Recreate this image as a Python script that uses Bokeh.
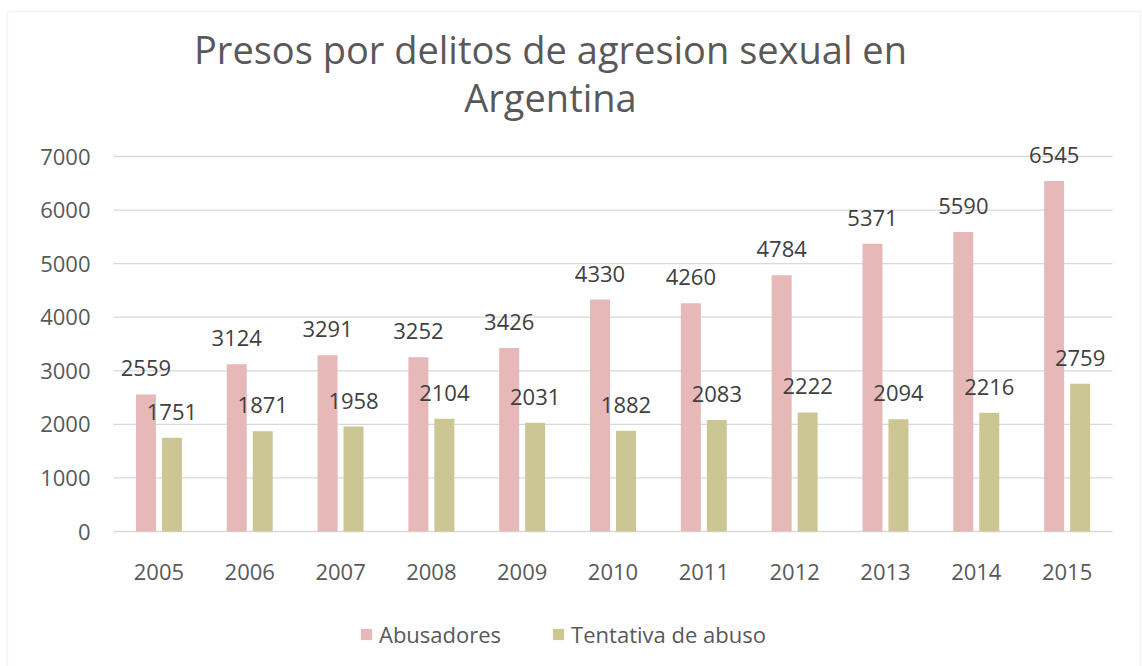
from bokeh.plotting import figure
from bokeh.models import (ColumnDataSource, Range1d, Legend, LegendItem, Label,
                          BoxAnnotation, FixedTicker, LinearAxis)
from bokeh.transform import dodge
from bokeh.core.properties import value
from bokeh.embed import file_html
from bokeh.resources import INLINE

years = ["2005", "2006", "2007", "2008", "2009", "2010", "2011", "2012", "2013", "2014", "2015"]
abusadores = [2559, 3124, 3291, 3252, 3426, 4330, 4260, 4784, 5371, 5590, 6545]
tentativa = [1751, 1871, 1958, 2104, 2031, 1882, 2083, 2222, 2094, 2216, 2759]
y_ticks = [0, 1000, 2000, 3000, 4000, 5000, 6000, 7000]
title_lines = ["Presos por delitos de agresion sexual en", "Argentina"]
series_names = ["Abusadores", "Tentativa de abuso"]

PINK = "#E6B8B7"
KHAKI = "#CCC594"
GRID = "#D9D9D9"
FONT = "Open Sans"
W, H = 1142, 666

idx = list(range(len(years)))
src = ColumnDataSource(dict(
    idx=idx, abus=abusadores, tent=tentativa,
    abus_lbl=[str(v) for v in abusadores], tent_lbl=[str(v) for v in tentativa],
))
grid_src = ColumnDataSource(dict(
    y=y_ticks, x0=[-0.5] * len(y_ticks), x1=[len(years) - 0.5] * len(y_ticks)))

p = figure(x_range=Range1d(-1.7442, 10.830), y_range=Range1d(-2520, 9912),
           width=W, height=H, output_backend="svg", toolbar_location=None,
           x_axis_type=None, y_axis_type=None, min_border=0)
p.outline_line_color = None
p.background_fill_color = "white"
p.border_fill_color = "white"
p.grid.visible = False

# horizontal gridlines
p.segment(x0="x0", x1="x1", y0="y", y1="y", source=grid_src,
          line_color=GRID, line_width=1.3)

yaxis = LinearAxis(fixed_location=-0.5, ticker=FixedTicker(ticks=y_ticks))
xaxis = LinearAxis(fixed_location=0, ticker=FixedTicker(ticks=idx),
                   major_label_overrides={i: y for i, y in zip(idx, years)})
for ax in (xaxis, yaxis):
    ax.axis_line_color = None
    ax.major_tick_line_color = None
    ax.minor_tick_line_color = None
    ax.major_label_text_font = FONT
    ax.major_label_text_font_size = "22px"
    ax.major_label_text_color = "#595959"
yaxis.major_label_standoff = 17
xaxis.major_label_standoff = 26
p.add_layout(yaxis, "left")
p.add_layout(xaxis, "below")

r1 = p.vbar(x=dodge("idx", -0.143), top="abus", width=0.22,
            source=src, fill_color=PINK, line_color=None)
r2 = p.vbar(x=dodge("idx", 0.143), top="tent", width=0.22,
            source=src, fill_color=KHAKI, line_color=None)

for col, lbl, off in (("abus", "abus_lbl", -0.143), ("tent", "tent_lbl", 0.143)):
    p.text(x=dodge("idx", off), y=col, text=lbl, source=src,
           y_offset=-26, text_align="center", text_baseline="middle",
           text_font=value(FONT), text_font_size="22px", text_color="#404040")

leg = Legend(items=[LegendItem(label=series_names[0], renderers=[r1]),
                    LegendItem(label=series_names[1], renderers=[r2])],
             location=(359, 17), orientation="horizontal", glyph_width=14, glyph_height=14,
             label_standoff=6, padding=0, margin=0, spacing=50, label_height=14,
             border_line_color=None, background_fill_alpha=0,
             label_text_font=FONT, label_text_font_size="22px",
             label_text_color="#595959")
p.add_layout(leg)

p.add_layout(Label(x=550, y=618, x_units="screen", y_units="screen", text=title_lines[0],
                   text_align="center", text_baseline="alphabetic", text_font=FONT,
                   text_font_size="38px", text_color="#595959"))
p.add_layout(Label(x=550, y=570, x_units="screen", y_units="screen", text=title_lines[1],
                   text_align="center", text_baseline="alphabetic", text_font=FONT,
                   text_font_size="38px", text_color="#595959"))

p.add_layout(BoxAnnotation(left=7, right=1140, top=11, bottom=700,
                           left_units="canvas", right_units="canvas",
                           top_units="canvas", bottom_units="canvas",
                           fill_alpha=0, line_color=GRID, line_width=1.5))

open("out.html", "w").write(file_html(p, INLINE))
